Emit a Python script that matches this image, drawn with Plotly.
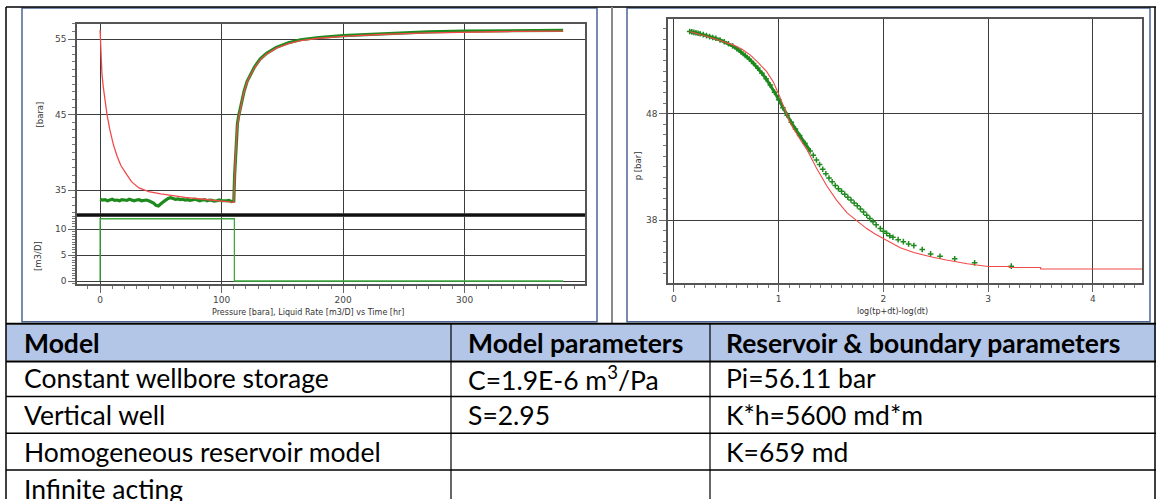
import plotly.graph_objects as go

W, H = 1156, 501
def fx(px): return px / W
def fy(py): return 1 - py / H

# ---------------- data ----------------
# drawdown period (measured pressure, every 2 hr)
t_drawdown = list(range(0, 111, 2))
p_meas_drawdown = [33.8, 33.7, 33.75, 33.6, 33.7, 33.8, 33.65, 33.7, 33.6, 33.75,
                   33.7, 33.65, 33.8, 33.7, 33.6, 33.7, 33.75, 33.6, 33.65, 33.7,
                   33.6, 33.5, 33.3, 33.0, 32.9, 33.2, 33.5, 33.7, 33.9, 34.0,
                   33.9, 33.8, 33.85, 33.75, 33.8, 33.7, 33.75, 33.65, 33.7, 33.8,
                   33.7, 33.6, 33.7, 33.75, 33.6, 33.7, 33.65, 33.55, 33.6, 33.7,
                   33.6, 33.55, 33.6, 33.65, 33.5, 33.55]
# model during drawdown
t_model_drawdown = [0, 0.3, 0.8, 1.5, 2.5, 4, 5.7, 8, 11, 14, 17, 21, 26, 32, 40, 50, 60, 70, 85, 100, 110]
p_model_drawdown = [56.2, 54.5, 52.5, 50.5, 48.8, 46.8, 45.0, 43.0, 41.0, 39.5, 38.3, 37.3,
                    36.1, 35.3, 34.8, 34.5, 34.25, 34.05, 33.8, 33.55, 33.4]
# build-up period
t_buildup = [110, 110.3, 110.7, 111, 111.5, 112.2, 113, 114, 115, 116.5, 118.5, 121, 123,
             127, 132, 137, 145, 155, 165, 180, 200, 230, 270, 300, 340, 381]
p_model_buildup = [33.4, 35.2, 37.2, 38.3, 40.0, 42.0, 43.6, 44.6, 45.3, 46.6, 48.0, 49.3, 50.0,
                   51.2, 52.3, 53.0, 53.8, 54.4, 54.8, 55.1, 55.35, 55.6, 55.8, 55.9, 56.0, 56.05]
p_meas_buildup = [33.6, 35.0, 37.0, 38.2, 40.1, 42.1, 43.8, 44.8, 45.5, 46.8, 48.1, 49.4, 50.1,
                  51.3, 52.4, 53.1, 53.9, 54.5, 54.9, 55.2, 55.45, 55.7, 55.95, 56.05, 56.15, 56.15]
# liquid rate
t_rate = [0, 0, 110.5, 110.5, 381]
q_rate = [0, 12.0, 12.0, 0, 0]

# Horner plot: dense early part and sparse late part of the measured points
horner_x_dense = [0.15, 0.17, 0.19, 0.21, 0.23, 0.25, 0.28, 0.31, 0.34, 0.37, 0.40, 0.44, 0.48,
                  0.52, 0.56, 0.60, 0.64, 0.68, 0.72, 0.76, 0.80, 0.84, 0.88, 0.92, 0.96, 1.00,
                  1.04, 1.08, 1.12, 1.16, 1.20, 1.25, 1.30]
horner_p_dense = [55.72, 55.68, 55.64, 55.60, 55.55, 55.50, 55.42, 55.33, 55.24, 55.15, 55.08,
                  54.92, 54.75, 54.57, 54.36, 54.10, 53.80, 53.47, 53.12, 52.72, 52.28, 51.80,
                  51.27, 50.68, 50.02, 49.30, 48.55, 47.85, 47.18, 46.55, 45.95, 45.22, 44.50]
horner_x_sparse = [1.33, 1.36, 1.39, 1.42, 1.45, 1.48, 1.51, 1.54, 1.57, 1.60, 1.63, 1.66, 1.69,
                   1.72, 1.75, 1.78, 1.81, 1.84, 1.87, 1.90, 1.93, 1.97, 2.00, 2.03, 2.06, 2.09,
                   2.14, 2.19, 2.24, 2.29, 2.37, 2.45, 2.54, 2.68, 2.87, 3.22]
horner_p_sparse = [44.08, 43.65, 43.22, 42.78, 42.35, 41.95, 41.6, 41.25, 40.95, 40.7, 40.42,
                   40.15, 39.88, 39.6, 39.35, 39.05, 38.75, 38.45, 38.15, 37.85, 37.55, 37.2,
                   36.94, 36.75, 36.53, 36.38, 36.16, 35.97, 35.76, 35.60, 35.23, 34.82, 34.60,
                   34.36, 33.98, 33.67]
horner_x_model = [0.15, 0.25, 0.41, 0.57, 0.65, 0.73, 0.80, 0.885, 0.95, 1.01, 1.06, 1.11, 1.19,
                  1.27, 1.36, 1.46, 1.55, 1.65, 1.75, 1.84, 1.92, 2.0, 2.16, 2.29, 2.45, 2.6,
                  2.8, 3.0, 3.2, 3.2, 3.5, 3.5, 4.47]
horner_p_model = [55.72, 55.45, 54.97, 54.44, 54.05, 53.5, 52.85, 51.95, 50.95, 49.6, 48.4, 47.1,
                  45.8, 44.6, 42.9, 41.2, 39.9, 38.7, 37.9, 37.2, 36.7, 36.25, 35.4, 34.95,
                  34.55, 34.25, 33.9, 33.64, 33.64, 33.55, 33.55, 33.4, 33.4]

# table
table_header = ["Model", "Model parameters", "Reservoir & boundary parameters"]
table_model = ["Constant wellbore storage", "Vertical well", "Homogeneous reservoir model", "Infinite acting"]
table_params = ["C=1.9E-6 m<sup>3</sup>/Pa", "S=2.95", "", ""]
table_reservoir = ["Pi=56.11 bar", "K*h=5600 md*m", "K=659 md", ""]

GREEN = "#1E8A1E"
RED = "#F24A4A"
RATE_GREEN = "#3DAA3D"

fig = go.Figure()
# pressure panel
fig.add_trace(go.Scatter(x=t_drawdown + t_buildup, y=p_meas_drawdown + p_meas_buildup,
                         mode="lines", line=dict(color=GREEN, width=3.2), xaxis="x2", yaxis="y"))
fig.add_trace(go.Scatter(x=t_model_drawdown + t_buildup, y=p_model_drawdown + p_model_buildup,
                         mode="lines", line=dict(color=RED, width=1.3), xaxis="x2", yaxis="y"))
# rate panel
fig.add_trace(go.Scatter(x=t_rate, y=q_rate, mode="lines",
                         line=dict(color=RATE_GREEN, width=1.3), xaxis="x", yaxis="y2"))
# Horner
fig.add_trace(go.Scatter(x=horner_x_dense, y=horner_p_dense, mode="lines+markers",
                         line=dict(color=GREEN, width=3),
                         marker=dict(symbol="cross-thin", size=4, line=dict(color=GREEN, width=1.5)),
                         xaxis="x3", yaxis="y3"))
fig.add_trace(go.Scatter(x=horner_x_sparse, y=horner_p_sparse, mode="markers",
                         marker=dict(symbol="cross-thin", size=4, line=dict(color=GREEN, width=1.5)),
                         xaxis="x3", yaxis="y3"))
fig.add_trace(go.Scatter(x=horner_x_model, y=horner_p_model, mode="lines",
                         line=dict(color=RED, width=1.1), xaxis="x3", yaxis="y3"))

tickfont = dict(family="DejaVu Sans", size=9, color="#444")
common = dict(showline=True, linecolor="#555", linewidth=1.5, mirror=True,
              showgrid=True, gridcolor="#3c3c3c", gridwidth=1.3, zeroline=False,
              ticklen=7, tickcolor="#666", tickwidth=1,
              tickfont=tickfont, fixedrange=True)

def minor(d):
    return dict(ticks="outside", dtick=d, ticklen=3, tickcolor="#777", showgrid=False)

fig.update_layout(
    width=W, height=H, margin=dict(l=0, r=0, t=0, b=0),
    paper_bgcolor="white", plot_bgcolor="white", showlegend=False,
    xaxis=dict(domain=[fx(77), fx(585)], anchor="y2", range=[-19, 399], dtick=100, tick0=0,
               ticks="outside", minor=minor(10), **common),
    xaxis2=dict(domain=[fx(77), fx(585)], anchor="y", range=[-19, 399], dtick=100, tick0=0,
                matches="x", showticklabels=False, ticks="", **common),
    yaxis=dict(domain=[fy(216), fy(24)], anchor="x2", range=[31.7, 57.0], dtick=10, tick0=35,
               ticks="outside", minor=minor(1), **common),
    yaxis2=dict(domain=[fy(285), fy(216)], anchor="x", range=[-0.55, 12.7], dtick=5, tick0=0,
                ticks="outside", minor=minor(0.5), **common),
    xaxis3=dict(domain=[fx(668), fx(1142)], anchor="y3", range=[-0.057, 4.468], dtick=1, tick0=0,
                ticks="outside", minor=minor(0.1), **common),
    yaxis3=dict(domain=[fy(284), fy(19)], anchor="x3", range=[32.1, 56.9], dtick=10, tick0=38,
                ticks="outside", minor=minor(1), **common),
)

shapes = []
def line(x0, y0, x1, y1, color="black", width=1.5):
    shapes.append(dict(type="line", xref="paper", yref="paper",
                       x0=fx(x0), y0=fy(y0), x1=fx(x1), y1=fy(y1),
                       line=dict(color=color, width=width)))

# separator between pressure and rate panels
line(77, 216, 585, 216, "#111", 2.2)
# image frames
for (a, b) in [(22, 597), (627, 1150)]:
    shapes.append(dict(type="rect", xref="paper", yref="paper",
                       x0=fx(a), x1=fx(b), y0=fy(8), y1=fy(323),
                       line=dict(color="#4D6496", width=1.5)))
# header fill
shapes.append(dict(type="rect", xref="paper", yref="paper", x0=fx(6), x1=fx(1156),
                   y0=fy(326), y1=fy(362), fillcolor="#B4C6E7", line=dict(width=0), layer="below"))
# document table borders
line(6, 7, 1156, 7, "black", 1.5)
line(6, 7, 6, 501, "black", 1.5)
line(1155, 7, 1155, 501, "black", 1.5)
line(612, 7, 612, 325, "#8a8a8a", 2)
line(6, 325, 1156, 325, "black", 2)
line(6, 363, 1156, 363, "black", 2)
for yy in (398, 435, 472):
    line(6, yy, 1156, yy, "black", 1.5)
for xx in (451, 710):
    line(xx, 325, xx, 501, "black", 1.2)
fig.update_layout(shapes=shapes)

ann = []
def text(x, y, s, size=8.5, angle=0, xanchor="center", color="#333", family="DejaVu Sans"):
    ann.append(dict(x=fx(x), y=fy(y), xref="paper", yref="paper", text=s, showarrow=False,
                    textangle=angle, xanchor=xanchor, yanchor="middle",
                    font=dict(family=family, size=size, color=color)))

text(40, 115, "[bara]", angle=-90)
text(38, 257, "[m3/D]", angle=-90)
text(308, 314, "Pressure [bara], Liquid Rate [m3/D] vs Time [hr]", size=8)
text(638, 167, "p [bar]", angle=-90)
text(892, 313, "log(tp+dt)-log(dt)", size=8)

col_x = [22, 466, 724]
row_y = [380, 417, 454, 491]
TFONT = "Lato"
TSIZE = 26.5
for cx, h in zip(col_x, table_header):
    text(cx, 344, "<b>" + h + "</b>", size=TSIZE, xanchor="left", color="black", family=TFONT)
for col, cx in zip([table_model, table_params, table_reservoir], col_x):
    for ry, s in zip(row_y, col):
        if s:
            text(cx, ry, s, size=TSIZE, xanchor="left", color="black", family=TFONT)
fig.update_layout(annotations=ann)

fig.write_html("out.html", config={"displayModeBar": False},
               post_script="document.body.style.margin='0';document.body.style.overflow='hidden';")
